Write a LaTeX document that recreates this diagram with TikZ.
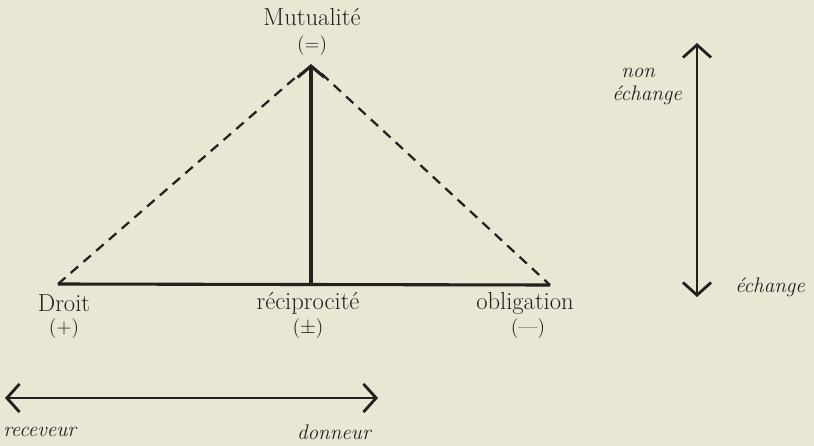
\documentclass[tikz,border=0pt]{standalone}
\usepackage{tikz}
\usetikzlibrary{arrows.meta, positioning}
\definecolor{paper}{RGB}{233,230,211}
\definecolor{ink}{RGB}{35,33,30}
\tikzset{
  word/.style={inner sep=0pt, text=ink, font=\fontsize{17.5}{20}\selectfont},
  sign/.style={inner sep=0pt, text=ink, font=\fontsize{14}{16}\selectfont},
  itword/.style={inner sep=0pt, text=ink, font=\itshape\fontsize{15}{17}\selectfont},
  base/.style={line width=2.2pt, color=ink},
  arrow/.style={-{Straight Barb[length=8pt, width=19pt]}, line width=2.2pt, color=ink},
  both/.style={{Straight Barb[length=9pt, width=20pt]}-{Straight Barb[length=9pt, width=20pt]}, line width=2pt, color=ink},
  dashline/.style={line width=1.6pt, color=ink, dash pattern=on 7pt off 5pt}
}
\begin{document}
\begin{tikzpicture}[x=0.025cm, y=-0.025cm]

  \path[use as bounding box, fill=paper] (0,0) rectangle (814,446);

  % triangle corners
  \coordinate (dr) at (58,284);
  \coordinate (rc) at (311,284);
  \coordinate (ob) at (550,285);
  \coordinate (mu) at (311,64);

  \node[word] (mutu) at (312,17) {Mutualité};
  \node[sign] (eq) at (312,46) {(=)};
  \node[word] (droit) at (64,303) {Droit};
  \node[sign] (plus) at (64,329) {(+)};
  \node[word] (reci) at (308,303) {réciprocité};
  \node[sign] (pm) at (308,329) {($\pm$)};
  \node[word] (oblig) at (525,303) {obligation};
  \node[sign] (minus) at (528,329) {(---)};

  \draw[base] (dr) -- (ob);
  \draw[arrow] (rc) -- (mu);
  \draw[dashline, shorten >=10pt] (dr) -- (mu);
  \draw[dashline, shorten <=10pt] (mu) -- (ob);

  % exchange axis
  \coordinate (up) at (697,43);
  \coordinate (dn) at (697,297);
  \draw[both] (dn) -- (up);
  \node[itword, anchor=west] (non) at (621,73) {non};
  \node[itword, anchor=west] (nonech) at (612,95) {échange};
  \node[itword, anchor=west] (ech) at (735,287) {échange};

  % giver axis
  \coordinate (rv) at (5,398);
  \coordinate (dn2) at (378,398);
  \draw[both] (rv) -- (dn2);
  \node[itword, anchor=west] (recv) at (3,432) {receveur};
  \node[itword, anchor=east] (donn) at (371,432) {donneur};

\end{tikzpicture}
\end{document}
